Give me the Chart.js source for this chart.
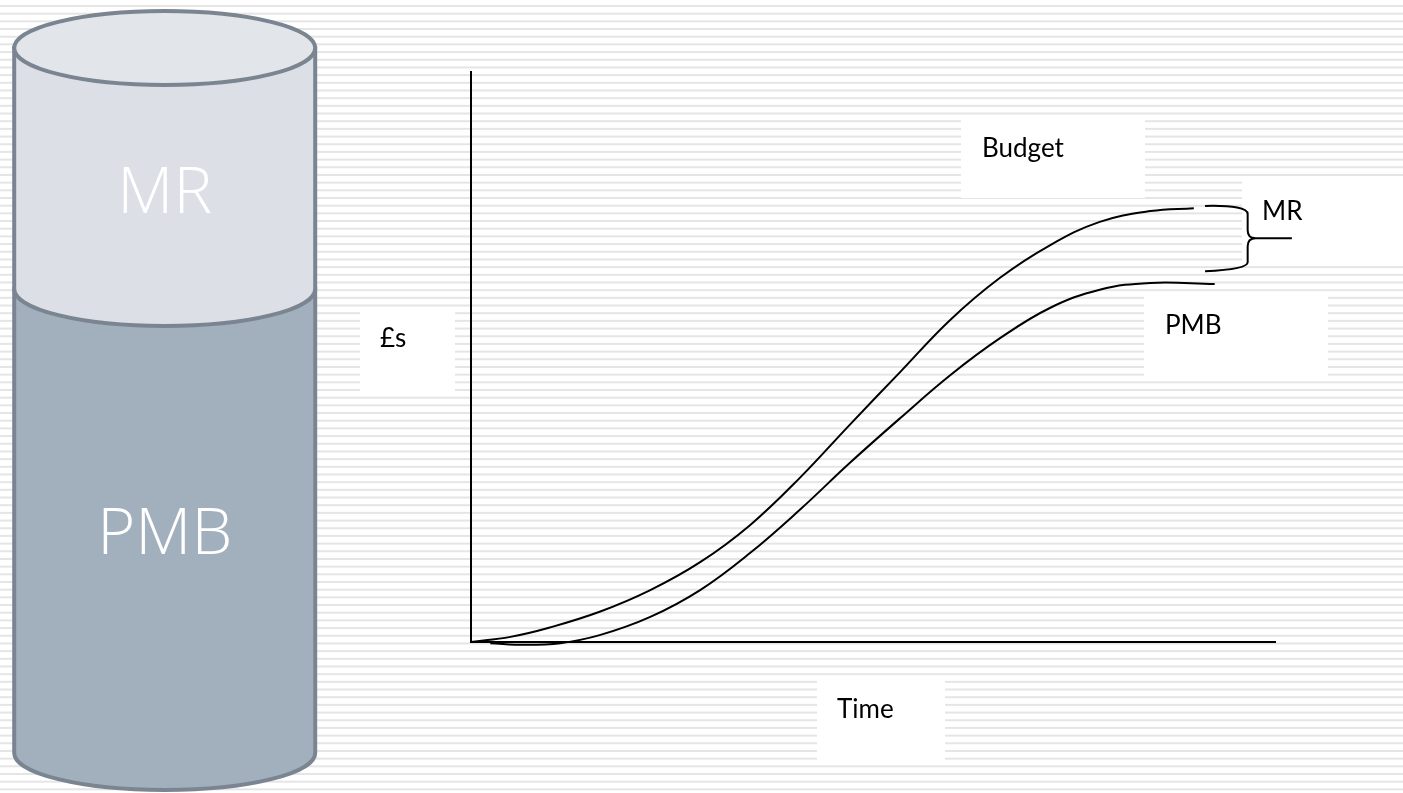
<!DOCTYPE html>
<html>
<head>
<meta charset="utf-8">
<title>Budget vs PMB</title>
<script src="https://cdn.jsdelivr.net/npm/chart.js@4.4.0/dist/chart.umd.min.js"></script>
<style>
  body { margin: 0; background: #fff; }
  #wrap { width: 1403px; height: 793px; }
</style>
</head>
<body>
<div id="wrap"><canvas id="budgetChart" width="1403" height="793"></canvas></div>
<script>
// Curve data (time 0-100 along the x axis, £s 0-100 up the y axis)
const budgetTime = [0, 4.9, 9.7, 16.0, 22.3, 28.5, 34.7, 40.9, 47.1, 53.4, 59.6, 65.8, 72.0, 78.2, 84.5, 89.9];
const budgetValue = [0, 0.9, 2.5, 5.3, 9.1, 14.0, 20.5, 28.8, 38.1, 47.4, 56.5, 63.9, 69.6, 73.7, 75.6, 76.1];
const pmbTime = [2.4, 6.7, 11.1, 16.0, 22.3, 28.5, 34.7, 40.9, 47.1, 53.4, 59.6, 65.8, 72.0, 78.2, 84.5, 92.5];
const pmbValue = [-0.2, -0.5, -0.2, 1.2, 4.4, 9.1, 15.6, 23.2, 31.4, 39.3, 46.8, 53.3, 58.6, 61.8, 63.0, 62.8];

// Cylinder segments (top to bottom)
const cylinderLabels = ['MR', 'PMB'];

// Text labels on the slide
const axisLabels = { y: '£s', x: 'Time' };
const seriesLabels = ['Budget', 'PMB'];
const gapLabel = 'MR';

const ctx = document.getElementById('budgetChart').getContext('2d');

function toPoints(xs, ys) {
    return xs.map((x, i) => ({ x: x, y: ys[i] }));
}

// Striped slide background
const backgroundPlugin = {
    id: 'slideBackground',
    beforeDraw(chart) {
        const c = chart.ctx;
        c.save();
        c.fillStyle = '#ffffff';
        c.fillRect(0, 0, chart.width, chart.height);
        c.fillStyle = '#e5e5e5';
        for (let y = 5; y < chart.height; y += 7.68) {
            c.fillRect(0, y, chart.width, 2);
        }
        c.restore();
    }
};

// White text boxes, cylinder and the MR brace
const decorPlugin = {
    id: 'decor',
    beforeDatasetsDraw(chart) {
        const c = chart.ctx;
        c.save();
        // white label boxes
        c.fillStyle = '#ffffff';
        c.fillRect(961, 117, 184, 81);
        c.fillRect(360, 311, 95, 80);
        c.fillRect(1144, 292, 184, 85);
        c.fillRect(817, 678, 128, 82);
        c.fillRect(1242, 180, 161, 86);

        // cylinder
        const cx = 164.7, rx = 150.5, ry = 37;
        const topY = 48, midY = 289, botY = 753;
        c.lineWidth = 4;
        c.strokeStyle = '#7a8591';
        // PMB body
        c.beginPath();
        c.moveTo(cx - rx, midY);
        c.lineTo(cx - rx, botY);
        c.ellipse(cx, botY, rx, ry, 0, Math.PI, 0, true);
        c.lineTo(cx + rx, midY);
        c.closePath();
        c.fillStyle = '#a2b0be';
        c.fill();
        c.stroke();
        // MR body
        c.beginPath();
        c.moveTo(cx - rx, topY);
        c.lineTo(cx - rx, midY);
        c.ellipse(cx, midY, rx, ry, 0, Math.PI, 0, true);
        c.lineTo(cx + rx, topY);
        c.closePath();
        c.fillStyle = '#dce0e6';
        c.fill();
        c.stroke();
        // top
        c.beginPath();
        c.ellipse(cx, topY, rx, ry, 0, 0, Math.PI * 2);
        c.fillStyle = '#e2e5ea';
        c.fill();
        c.stroke();

        c.fillStyle = '#ffffff';
        c.font = '300 65px "Open Sans", sans-serif';
        c.textAlign = 'center';
        c.textBaseline = 'alphabetic';
        c.fillText(cylinderLabels[0], cx, 213);
        c.fillText(cylinderLabels[1], cx, 554);

        // labels
        c.fillStyle = '#000000';
        c.textAlign = 'left';
        c.font = '26px Lato, sans-serif';
        c.fillText(seriesLabels[0], 982, 157);
        c.fillText(axisLabels.y, 380, 347);
        c.fillText(seriesLabels[1], 1165, 334);
        c.fillText(gapLabel, 1262, 220);
        c.fillText(axisLabels.x, 837, 718);
        c.restore();
    },
    afterDatasetsDraw(chart) {
        const c = chart.ctx;
        const xs = chart.scales.x, ys = chart.scales.y;
        const xa = xs.getPixelForValue(91.3);
        const xsp = xs.getPixelForValue(96.6);
        const xt = xs.getPixelForValue(102.1);
        const yt = ys.getPixelForValue(76.5);
        const yb = ys.getPixelForValue(65.2);
        const ym = (yt + yb) / 2;
        c.save();
        c.strokeStyle = '#000';
        c.lineWidth = 2;
        c.beginPath();
        c.moveTo(xa, yt);
        c.quadraticCurveTo(xsp, yt - 1, xsp, yt + 8);
        c.lineTo(xsp, ym - 8);
        c.quadraticCurveTo(xsp, ym, xsp + 8, ym);
        c.lineTo(xt, ym);
        c.moveTo(xsp + 8, ym);
        c.quadraticCurveTo(xsp, ym, xsp, ym + 8);
        c.lineTo(xsp, yb - 8);
        c.quadraticCurveTo(xsp, yb - 1, xa, yb + 1);
        c.stroke();
        c.restore();
    }
};

const lineStyle = {
    borderColor: '#000000',
    borderWidth: 2,
    pointRadius: 0,
    fill: false,
    tension: 0.4,
    clip: false
};

const chartData = {
    datasets: [
        Object.assign({ label: seriesLabels[0], data: toPoints(budgetTime, budgetValue) }, lineStyle),
        Object.assign({ label: seriesLabels[1], data: toPoints(pmbTime, pmbValue) }, lineStyle)
    ]
};

const config = {
    type: 'line',
    data: chartData,
    options: {
        responsive: false,
        animation: false,
        layout: {
            padding: { left: 471, right: 128, top: 72, bottom: 151 }
        },
        plugins: {
            legend: { display: false },
            tooltip: { enabled: false }
        },
        scales: {
            x: {
                type: 'linear',
                min: 0,
                max: 100,
                grid: { display: false, drawTicks: false },
                ticks: { display: false },
                border: { display: true, color: '#000', width: 2 }
            },
            y: {
                min: 0,
                max: 100,
                grid: { display: false, drawTicks: false },
                ticks: { display: false },
                border: { display: true, color: '#000', width: 2 }
            }
        }
    },
    plugins: [backgroundPlugin, decorPlugin]
};

const budgetChart = new Chart(ctx, config);
</script>
</body>
</html>
